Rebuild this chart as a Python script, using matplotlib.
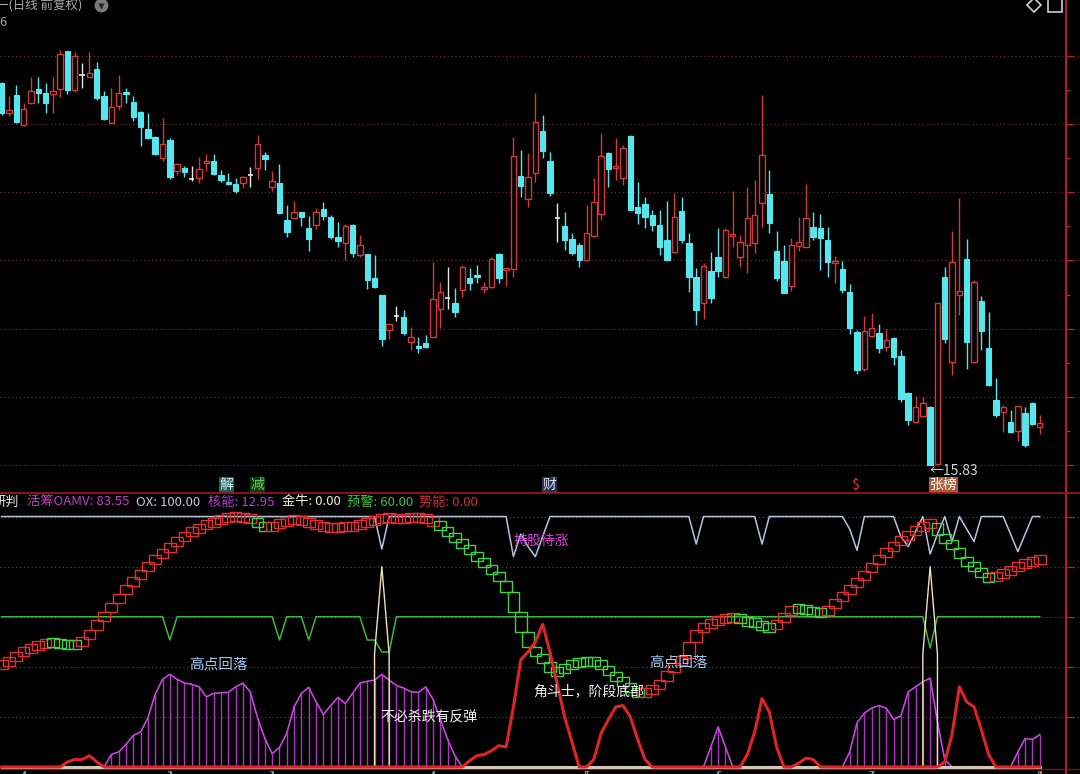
import matplotlib
matplotlib.use("Agg")
import matplotlib.pyplot as plt
from matplotlib.patches import Rectangle
from matplotlib.lines import Line2D
import numpy as np

plt.rcParams['font.family'] = ['Noto Sans CJK SC', 'DejaVu Sans']

# ---- 日K (前复权) ----
opens = [19.65, 19.35, 19.53, 19.23, 19.45, 19.59, 19.55, 19.54, 19.59, 19.97,
         19.58, 19.73, 19.71, 19.79, 19.52, 19.25, 19.42, 19.56, 19.46, 19.36,
         19.19, 19.11, 18.90, 19.08, 18.77, 18.80, 18.69, 18.70, 18.85, 18.87,
         18.73, 18.66, 18.64, 18.65, 18.73, 18.80, 18.93, 18.61, 18.65, 18.28,
         18.30, 18.36, 18.20, 18.23, 18.39, 18.31, 18.11, 18.05, 18.23, 17.93,
         17.94, 17.70, 17.53, 17.18, 17.32, 17.31, 17.06, 17.02, 17.05, 17.11,
         17.39, 17.50, 17.45, 17.58, 17.70, 17.73, 17.59, 17.61, 17.94, 17.78,
         17.79, 18.72, 18.49, 18.75, 19.17, 18.87, 18.30, 18.22, 18.09, 18.03,
         17.88, 18.12, 18.34, 18.95, 18.80, 18.70, 19.12, 18.41, 18.44, 18.33,
         18.23, 18.08, 17.96, 18.37, 18.05, 17.71, 17.45, 17.77, 17.91, 17.71,
         18.12, 17.91, 18.03, 18.05, 18.45, 18.54, 17.97, 17.87, 17.62, 18.02,
         18.01, 18.21, 18.20, 18.08, 17.85, 17.79, 17.56, 17.16, 16.79, 17.12,
         17.15, 17.01, 17.10, 16.92, 16.55, 16.26, 16.32, 16.41, 15.84, 17.71,
         16.86, 17.53, 17.89, 16.86, 17.47, 17.00, 16.48, 16.36, 16.26, 16.17,
         16.35, 16.45, 16.21]
closes = [19.35, 19.38, 19.26, 19.39, 19.57, 19.55, 19.45, 19.57, 19.94, 19.58,
          19.92, 19.73, 19.75, 19.50, 19.29, 19.41, 19.55, 19.54, 19.31, 19.21,
          19.10, 18.94, 19.04, 18.71, 18.84, 18.76, 18.68, 18.79, 18.87, 18.74,
          18.68, 18.64, 18.57, 18.71, 18.73, 19.04, 18.89, 18.67, 18.35, 18.16,
          18.36, 18.31, 18.09, 18.36, 18.32, 18.11, 18.07, 18.22, 17.95, 18.03,
          17.68, 17.61, 17.09, 17.24, 17.32, 17.15, 17.11, 17.00, 17.01, 17.49,
          17.56, 17.50, 17.36, 17.81, 17.65, 17.71, 17.61, 17.89, 17.70, 17.80,
          18.92, 18.62, 18.71, 19.26, 18.97, 18.55, 18.30, 18.08, 17.95, 17.88,
          18.15, 18.46, 18.92, 18.79, 18.82, 19.00, 18.38, 18.35, 18.31, 18.23,
          18.01, 17.88, 18.31, 18.08, 17.71, 17.38, 17.82, 17.50, 17.77, 18.18,
          18.14, 18.06, 18.30, 18.33, 18.93, 18.25, 17.70, 17.55, 18.03, 18.06,
          18.30, 18.11, 18.10, 17.86, 17.87, 17.58, 17.20, 16.78, 17.17, 17.20,
          17.00, 17.08, 16.91, 16.49, 16.28, 16.41, 16.45, 15.83, 17.45, 17.09,
          17.86, 17.57, 17.06, 17.66, 17.17, 16.63, 16.33, 16.41, 16.16, 16.42,
          16.03, 16.24, 16.25]
highs = [19.66, 19.52, 19.63, 19.45, 19.71, 19.71, 19.65, 19.71, 19.98, 19.97,
         19.96, 19.85, 19.96, 19.86, 19.57, 19.60, 19.73, 19.60, 19.52, 19.37,
         19.35, 19.12, 19.30, 19.10, 18.85, 18.82, 18.82, 18.91, 18.94, 18.94,
         18.78, 18.75, 18.70, 18.72, 18.81, 19.13, 18.96, 18.77, 18.84, 18.43,
         18.47, 18.36, 18.32, 18.40, 18.46, 18.33, 18.26, 18.24, 18.24, 18.13,
         17.94, 17.93, 17.53, 17.25, 17.42, 17.38, 17.21, 17.11, 17.13, 17.86,
         17.66, 17.81, 17.60, 17.83, 17.80, 17.83, 17.66, 17.91, 17.95, 17.80,
         19.11, 18.98, 18.95, 19.55, 19.33, 18.96, 18.45, 18.36, 18.15, 18.05,
         18.43, 18.70, 19.15, 18.96, 19.10, 19.03, 19.13, 18.66, 18.51, 18.38,
         18.38, 18.47, 18.55, 18.51, 18.15, 17.80, 17.85, 17.96, 18.20, 18.20,
         18.57, 18.13, 18.61, 18.68, 19.53, 18.78, 18.17, 18.03, 18.10, 18.31,
         18.64, 18.36, 18.34, 18.21, 17.92, 17.87, 17.64, 17.18, 17.32, 17.35,
         17.24, 17.19, 17.11, 16.98, 16.56, 16.52, 16.51, 16.42, 17.45, 17.81,
         18.17, 18.50, 18.09, 17.68, 17.52, 17.36, 16.70, 16.43, 16.38, 16.42,
         16.41, 16.46, 16.33]
lows = [19.33, 19.32, 19.25, 19.22, 19.44, 19.45, 19.35, 19.35, 19.51, 19.54,
        19.56, 19.60, 19.71, 19.48, 19.28, 19.25, 19.38, 19.45, 19.27, 19.02,
        19.09, 18.93, 18.87, 18.69, 18.73, 18.71, 18.67, 18.65, 18.77, 18.73,
        18.66, 18.63, 18.55, 18.60, 18.61, 18.69, 18.78, 18.57, 18.34, 18.11,
        18.30, 18.22, 17.97, 18.19, 18.28, 18.09, 18.01, 17.88, 17.91, 17.91,
        17.59, 17.60, 17.02, 17.09, 17.27, 17.13, 16.98, 16.95, 17.00, 17.11,
        17.20, 17.39, 17.31, 17.51, 17.58, 17.65, 17.55, 17.60, 17.65, 17.62,
        17.71, 18.51, 18.41, 18.66, 18.90, 18.52, 18.06, 17.98, 17.93, 17.81,
        17.87, 18.11, 18.28, 18.61, 18.68, 18.63, 18.38, 18.24, 18.20, 18.17,
        17.93, 17.87, 17.95, 18.05, 17.56, 17.23, 17.29, 17.45, 17.71, 17.70,
        18.01, 17.81, 17.75, 17.95, 18.21, 18.15, 17.67, 17.55, 17.57, 17.97,
        18.01, 18.08, 17.78, 17.71, 17.65, 17.55, 17.14, 16.74, 16.77, 17.11,
        16.95, 16.97, 16.83, 16.46, 16.23, 16.25, 16.31, 15.83, 15.83, 17.05,
        16.73, 17.33, 16.79, 16.85, 16.98, 16.62, 16.31, 16.16, 16.15, 16.07,
        16.01, 16.23, 16.14]
low_mark = 15.83
low_day = 127

# ---- 研判 indicator ----
oamv = [41, 43, 45.5, 47, 48, 49, 50, 49.6, 49.2, 49.0,
        48.8, 51.5, 54.5, 58.5, 62, 65.5, 69, 72.5, 75.5, 78.5,
        81.5, 84, 86.5, 89, 91, 93, 94.7, 96, 97.3, 98.3,
        99.2, 99.7, 100, 99.4, 98.9, 96.5, 95.6, 96.6, 97.8, 98.6,
        98.9, 98.0, 97.0, 96.4, 95.8, 95.5, 95.7, 96.0, 96.3, 97.0,
        98.0, 99.0, 99.6, 99.3, 99.0, 99.3, 99.6, 99.6, 98.8, 97.6,
        95.0, 92.8, 90.6, 88.0, 85.3, 82.8, 80.4, 77.5, 74.3, 70.0,
        62.0, 54.0, 47.8, 44.5, 42.0, 38.0, 38.5, 40.0, 41.5, 42.0,
        42.5, 41.5, 40.0, 37.0, 35.0, 33.0, 30.5, 29.0, 30.5, 31.4,
        34.3, 38.4, 41.0, 43.7, 49.8, 54.7, 56.5, 58.0, 59.0, 59.5,
        60.0, 58.5, 58.0, 57.0, 56.0, 55.5, 58.0, 61.0, 63.7, 63.0,
        62.5, 62.0, 61.5, 63.7, 67.0, 69.5, 72.0, 75.0, 78.0, 81.5,
        84.5, 87.0, 89.4, 91.5, 93.5, 95.2, 96.7, 97.6, 92.7, 90.0,
        87.3, 83.3, 81.0, 79.2, 76.3, 75.1, 76.7, 78.0, 79.2, 80.8,
        81.6, 82.4, 83.55]
oamv_runs = [(0, 6, 'r'), (7, 10, 'g'), (11, 34, 'r'), (35, 36, 'g'),
             (37, 59, 'r'), (60, 87, 'g'), (88, 100, 'r'), (101, 105, 'g'),
             (106, 108, 'r'), (109, 112, 'g'), (113, 127, 'r'), (128, 135, 'g'),
             (136, 142, 'r')]
ox_level = 100.0
ox_dips = {52: 87, 70: 84, 71: 93, 72: 88, 73: 84, 74: 92, 95: 89, 104: 89,
           116: 95, 117: 86.5, 123: 92, 124: 88, 125: 94, 127: 85, 128: 93,
           130: 90, 132: 95, 133: 90, 138: 93, 139: 86, 140: 93}
hn_vals = {15: 5, 16: 6, 17: 9, 18: 12.6, 19: 14, 20: 19.6, 21: 29, 22: 35,
           23: 37, 24: 35, 25: 33.5, 26: 33, 27: 32, 28: 28, 29: 29.4, 30: 29.6,
           31: 29.8, 32: 32, 33: 33.5, 34: 30, 35: 19.6, 36: 11.4, 37: 5.3,
           38: 7.8, 39: 13.5, 40: 24, 41: 29.4, 42: 31.8, 43: 26, 44: 21,
           45: 24.5, 46: 27.8, 47: 25.3, 48: 29.4, 49: 33.5, 50: 34.2, 51: 34.7,
           52: 37, 53: 34.7, 54: 32.5, 55: 31.5, 56: 30, 57: 29.8, 58: 32,
           59: 27, 60: 19, 61: 11, 62: 4.5,
           97: 8, 98: 16, 99: 8,
           116: 6, 117: 17.6, 118: 21.5, 119: 23.5, 120: 24.5, 121: 23.5,
           122: 19, 123: 20.4, 124: 30, 125: 32, 126: 34, 127: 35.5, 128: 18,
           129: 3,
           139: 6, 140: 11.4, 141: 11, 142: 12.95}
yj_level = 60.0
yj_dips = {23: 50.7, 38: 50.7, 42: 50.7, 50: 50.7, 51: 50.7, 52: 45.9,
           53: 45.9, 127: 47.5}
sn_vals = {9: 2, 10: 3, 11: 3, 12: 4.5, 13: 2,
           64: 2.5, 65: 4.5, 66: 5, 67: 6.5, 68: 8.5, 69: 8, 70: 24, 71: 42.7,
           72: 46, 73: 50, 74: 57, 75: 45.9, 76: 33, 77: 20, 78: 10,
           81: 3, 82: 13.5, 83: 19, 84: 24, 85: 24.5, 86: 20, 87: 11, 88: 3,
           102: 5, 103: 14, 104: 27.3, 105: 22, 106: 8,
           109: 1.5, 110: 3.5, 111: 3,
           129: 2, 130: 13, 131: 32, 132: 26, 133: 24, 134: 15, 135: 5}
jn_days = [52, 127]
jn_top = 80
jn_side = 45

marks = [(30.8, '解', '#d8f4f4', '#1f5a5c'), (35.0, '减', '#60d060', '#103c10'),
         (74.9, '财', '#d0dcf4', '#2a3450'), (116.7, '$', '#e83030', None),
         (128.8, '张榜', '#ffffff', '#a85a30')]
month_days = [3, 23, 37, 59, 80, 98, 119, 142]
month_labels = ['4', '2', '3', '4', '5', '6', '7', '8']

RED = '#d23a3a'
CYAN = '#56e6ee'
WHITE = '#e8e8e8'
W, H = 1080, 774

n = len(opens)
idx = np.arange(n)
o = np.array(opens); c = np.array(closes)
h = np.array(highs); l = np.array(lows)

fig = plt.figure(figsize=(W / 100, H / 100), dpi=100, facecolor='black')
ax = fig.add_axes([0, (H - 493) / H, 1, 493 / H])
bx = fig.add_axes([0, 0, 1, 281 / H])
for a in (ax, bx):
    a.set_axis_off()
    a.set_xlim(-0.23, 147.5)
ax.set_ylim(15.55, 20.48)
bx.set_ylim(-2.8, 109.4)

# grid
grid = np.linspace(15.83, 19.92, 7)
for g in grid:
    ax.axhline(g, color='#6a3838', lw=0.8, ls=(0, (1, 2.5)), zorder=0)
ax.hlines(grid, 145.6, 146.5, color='#c02020', lw=1)
ax.hlines((grid[:-1] + grid[1:]) / 2, 145.6, 146.1, color='#c02020', lw=1)
for g in [20, 40, 60, 80, 100]:
    bx.axhline(g, color='#505050', lw=0.8, ls=(0, (1, 2.5)), zorder=0)
bx.hlines([20, 40, 60, 80, 100], 145.6, 146.5, color='#c02020', lw=1)

# candles
up = c - o > 0.015
dn = o - c > 0.015
dj = ~(up | dn)
cols = np.where(up, RED, np.where(dn, CYAN, WHITE))
ax.vlines(idx, l, h, colors=cols, lw=1, zorder=2)
ax.bar(idx[dn], (o - c)[dn], bottom=c[dn], width=0.74, color=CYAN,
       edgecolor=CYAN, lw=0.8, zorder=3)
ax.bar(idx[up], (c - o)[up], bottom=o[up], width=0.74, facecolor='black',
       edgecolor=RED, lw=1, zorder=3)
ax.hlines(o[dj], idx[dj] - 0.37, idx[dj] + 0.37, color=WHITE, lw=1.2, zorder=3)

ax.text(low_day - 0.1, low_mark - 0.06, '←' + f'{low_mark:.2f}', color='#d4d4d4',
        fontsize=10, ha='left', va='center', zorder=5)
for xm, s, col, bg in marks:
    kw = dict(boxstyle='square,pad=0.05', fc=bg, ec='none') if bg else None
    ax.text(xm, 15.63, s, color=col, fontsize=10, ha='center', va='center',
            bbox=kw, zorder=5)

# ---- lower panel ----
ox = np.array([ox_dips.get(i, ox_level) for i in idx])
yj = np.array([yj_dips.get(i, yj_level) for i in idx])
hn = np.array([hn_vals.get(i, 0.0) for i in idx])
sn = np.array([sn_vals.get(i, 0.0) for i in idx])
osc = np.array(oamv)

bx.plot(idx, ox, color='#b8c4dc', lw=1.1, zorder=2)
bx.plot(idx, yj, color='#3cb83c', lw=1.1, zorder=2)

# 核能 histogram
pos = hn > 0
bx.vlines(idx[pos], 0, hn[pos], color='#b034c4', lw=1, zorder=2)
near = pos | np.r_[pos[1:], False] | np.r_[False, pos[:-1]]
hn_line = np.where(near, hn, np.nan)
bx.plot(idx, hn_line, color='#c448d8', lw=1.2, zorder=2)

# 活筹 boxes
box_col = {}
for a0, a1, k in oamv_runs:
    for i in range(a0, a1 + 1):
        box_col[i] = '#e03030' if k == 'r' else '#44d044'
for i in idx:
    prev = osc[i - 1] if i > 0 else osc[i]
    lo, hi = min(prev, osc[i]), max(prev, osc[i])
    if hi - lo < 3.6:
        mid = (hi + lo) / 2
        lo, hi = mid - 1.8, mid + 1.8
    bx.add_patch(Rectangle((i - 0.8, lo), 1.6, hi - lo, fill=False,
                           ec=box_col[i], lw=1, zorder=3))

# 金牛 spikes
for d in jn_days:
    bx.plot([d - 1, d - 1, d, d + 1, d + 1], [0, jn_side, jn_top, jn_side, 0],
            color='#f0e2b8', lw=1, zorder=4)

# base + 势能
bx.plot([0, n - 1], [0, 0], color='#cfc6b4', lw=2.2, zorder=4)
bx.plot(idx, sn, color='#e02424', lw=2.2, zorder=5)
bx.axhline(-0.9, color='#701818', lw=1, zorder=1)
bx.vlines(month_days, -2.8, -1.5, color='#909090', lw=1)
for d, s in zip(month_days, month_labels):
    bx.text(d, -1.5, s, color='#a0a0a0', fontsize=8, ha='center', va='top',
            clip_on=False)

bx.text(29.6, 40.7, '高点回落', color='#a8c8f0', fontsize=10.5, ha='center', va='center', zorder=6)
bx.text(92.5, 41.5, '高点回落', color='#a8c8f0', fontsize=10.5, ha='center', va='center', zorder=6)
bx.text(51.8, 20.0, '不必杀跌有反弹', color='#f4f4f4', fontsize=10, ha='left', va='center', zorder=6)
bx.text(72.7, 30.3, '角斗士，阶段底部', color='#f4f4f4', fontsize=10, ha='left', va='center', zorder=6)
bx.text(70.0, 90.2, '持股待涨', color='#e040e0', fontsize=10, ha='left', va='center', zorder=6)

# ---- frame lines and header ----
def fx(px):
    return px / W

def fy(py):
    return 1 - py / H

fig.add_artist(Line2D([fx(1066)] * 2, [0, 1], color='#b41e1e', lw=1.5))
fig.add_artist(Line2D([0, 1], [fy(493)] * 2, color='#a01818', lw=1.2))

fig.text(fx(-4), fy(5), '一(日线 前复权)', color='#a8a8a8', fontsize=9, va='center')
fig.add_artist(Line2D([fx(101)], [fy(5)], marker='o', ms=10, color='#7a7a7a', mec='none'))
fig.add_artist(Line2D([fx(101)], [fy(6)], marker='v', ms=4, color='#222222', mec='none'))
fig.text(fx(-1), fy(23), '6', color='#a8a8a8', fontsize=9, va='center')
fig.add_artist(Line2D([fx(1034)], [fy(5)], marker='D', ms=7, mfc='none', mec='#cfcfcf', mew=1.2))
fig.add_artist(Line2D([fx(1055)], [fy(5)], marker='s', ms=10, mfc='none', mec='#cfcfcf', mew=1.2))

title_items = [(-7, '研判', '#e0e0e0'),
               (27, '活筹OAMV: %.2f' % osc[-1], '#c83cc8'),
               (136, 'OX: %.2f' % ox[-1], '#c0c8d8'),
               (208, '核能: %.2f' % hn[-1], '#b040d0'),
               (282, '金牛: 0.00', '#f0f0d8'),
               (347, '预警: %.2f' % yj[-1], '#40c040'),
               (419, '势能: %.2f' % sn[-1], '#d03030')]
for px, s, col in title_items:
    fig.text(fx(px), fy(502), s, color=col, fontsize=9.5, va='center')

fig.savefig('out.png', dpi=100, facecolor='black')
